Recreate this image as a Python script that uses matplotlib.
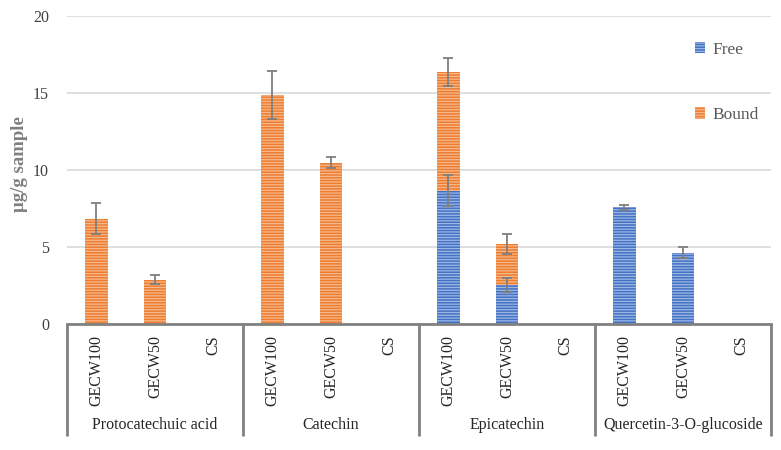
import matplotlib
matplotlib.use("Agg")
import matplotlib.pyplot as plt
import matplotlib.transforms as mtransforms
import numpy as np

compounds = ["Protocatechuic acid", "Catechin", "Epicatechin", "Quercetin-3-O-glucoside"]
samples = ["GECW100", "GECW50", "CS"]

free_vals = [0, 0, 0, 0, 0, 0, 8.66, 2.53, 0, 7.57, 4.63, 0]
bound_vals = [6.85, 2.87, 0, 14.87, 10.47, 0, 7.72, 2.69, 0, 0, 0, 0]
free_err = [0, 0, 0, 0, 0, 0, 1.0, 0.47, 0, 0.17, 0.37, 0]
bound_err = [1.0, 0.3, 0, 1.55, 0.35, 0, 0.9, 0.65, 0, 0, 0, 0]

yticks = [0, 5, 10, 15, 20]

plt.rcParams['font.family'] = ['Liberation Serif', 'DejaVu Serif']
plt.rcParams['hatch.linewidth'] = 0.9

W, H = 781, 450
fig = plt.figure(figsize=(W / 100, H / 100), dpi=100)
ax = fig.add_axes([67 / W, (H - 324) / H, (771 - 67) / W, (324 - 16) / H])

n = len(free_vals)
x = np.arange(n)
free = np.array(free_vals)
bound = np.array(bound_vals)
width = 0.39

blue = "#4472C4"
blue_l = "#9DB6E4"
orange = "#ED7D31"
orange_l = "#F6B98C"

ax.bar(x, free, width, color=blue, edgecolor=blue_l, linewidth=0, hatch='------',
       label='Free', zorder=2)
ax.bar(x, bound, width, bottom=free, color=orange, edgecolor=orange_l, linewidth=0,
       hatch='------', label='Bound', zorder=2)

ecol = "#7F7F7F"
for i in range(n):
    if free[i] > 0 and free_err[i] > 0:
        ax.errorbar(x[i], free[i], yerr=free_err[i], fmt='none', ecolor=ecol,
                    elinewidth=1.3, capsize=3.5, capthick=1.3, zorder=4)
    if bound[i] > 0 and bound_err[i] > 0:
        ax.errorbar(x[i], free[i] + bound[i], yerr=bound_err[i], fmt='none', ecolor=ecol,
                    elinewidth=1.3, capsize=3.5, capthick=1.3, zorder=4)

ax.set_xlim(-0.5, n - 0.5)
ax.set_ylim(0, 20)
ax.set_yticks(yticks)
ax.set_yticklabels([str(t) for t in yticks], fontsize=11.5, color="#404040")
ax.tick_params(axis='y', length=0, pad=13)
ax.set_xticks([])
ax.grid(axis='y', color="#D9D9D9", linewidth=1.2, zorder=0)
ax.set_axisbelow(True)
for s in ['left', 'right', 'top']:
    ax.spines[s].set_visible(False)
ax.spines['bottom'].set_color("#808080")
ax.spines['bottom'].set_linewidth(2)

ax.set_ylabel("μg/g sample", fontsize=13.5, fontweight='bold', color="#7F7F7F")
ax.yaxis.set_label_coords(-0.056, 0.52)

trans = mtransforms.blended_transform_factory(ax.transData, ax.transAxes)
ng = len(compounds)
ns = len(samples)
for g in range(ng + 1):
    xb = g * ns - 0.5
    ax.plot([xb, xb], [0, -0.364], transform=trans, color="#808080", linewidth=2,
            clip_on=False, solid_capstyle='butt')
for g, comp in enumerate(compounds):
    for j, s in enumerate(samples):
        ax.text(g * ns + j, -0.036, s, transform=trans, rotation=90, ha='center',
                va='top', fontsize=11.5, color="#262626")
    ax.text(g * ns + (ns - 1) / 2, -0.328, comp, transform=trans, ha='center',
            va='center', fontsize=11.5, color="#262626")

leg = ax.legend(loc='upper left', bbox_to_anchor=(695 / W, (H - 42) / H),
                bbox_transform=fig.transFigure, frameon=False, fontsize=12.5,
                labelspacing=2.83, handlelength=0.6, handleheight=0.6,
                handletextpad=0.4, borderpad=0, borderaxespad=0)
for t in leg.get_texts():
    t.set_color("#595959")

fig.savefig("out.png", dpi=100)
